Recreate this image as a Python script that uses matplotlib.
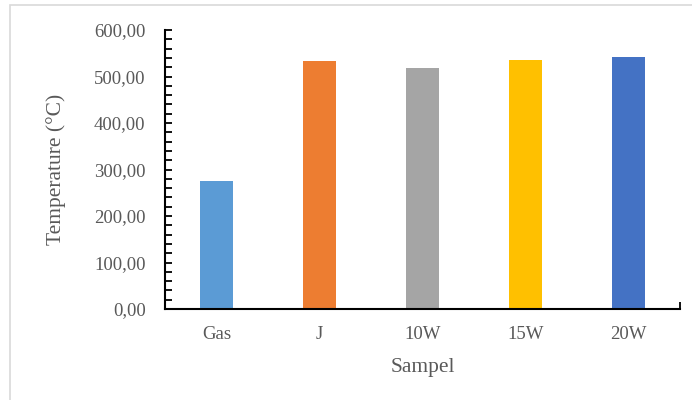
import matplotlib
matplotlib.use("Agg")
import matplotlib.pyplot as plt
import matplotlib.patches as patches
from matplotlib.ticker import MultipleLocator, FuncFormatter, FixedLocator

samples = ['Gas', 'J', '10W', '15W', '20W']
temperatures = [275, 533, 519, 535, 543]
bar_colors = ['#5B9BD5', '#ED7D31', '#A5A5A5', '#FFC000', '#4472C4']

plt.rcParams['font.family'] = ['Liberation Serif', 'DejaVu Serif']
text_color = '#595959'

fig = plt.figure(figsize=(6.92, 4.0), dpi=100)
ax = fig.add_axes([165 / 692, 91 / 400, 515 / 692, 279 / 400])

# light frame around the chart area
frame = patches.Rectangle((10 / 692, -0.1), 1.2, 1.1 - 5 / 400, transform=fig.transFigure,
                          fill=False, edgecolor='#d9d9d9', linewidth=1.2)
fig.patches.append(frame)

x = range(len(samples))
ax.bar(x, temperatures, width=0.32, color=bar_colors, zorder=2)

ax.set_xlim(-0.5, len(samples) - 0.5)
ax.set_ylim(0, 600)
ax.yaxis.set_major_locator(MultipleLocator(100))
ax.yaxis.set_minor_locator(MultipleLocator(20))
ax.yaxis.set_major_formatter(FuncFormatter(lambda v, p: f'{v:.2f}'.replace('.', ',')))

ax.set_xticks(list(x))
ax.set_xticklabels(samples)
ax.xaxis.set_minor_locator(FixedLocator([len(samples) - 0.5]))

for side in ['top', 'right']:
    ax.spines[side].set_visible(False)
for side in ['left', 'bottom']:
    ax.spines[side].set_linewidth(1.5)
    ax.spines[side].set_color('black')

ax.tick_params(axis='both', which='both', direction='in', length=5, width=1.3,
               colors='black', labelcolor=text_color, labelsize=13.5)
ax.tick_params(axis='y', pad=14)
ax.tick_params(axis='x', pad=12)

ax.set_ylabel('Temperature (°C)', fontsize=15.5, color=text_color, labelpad=20)
ax.set_xlabel('Sampel', fontsize=15.5, color=text_color, labelpad=11)

fig.savefig('out.png', dpi=100)
